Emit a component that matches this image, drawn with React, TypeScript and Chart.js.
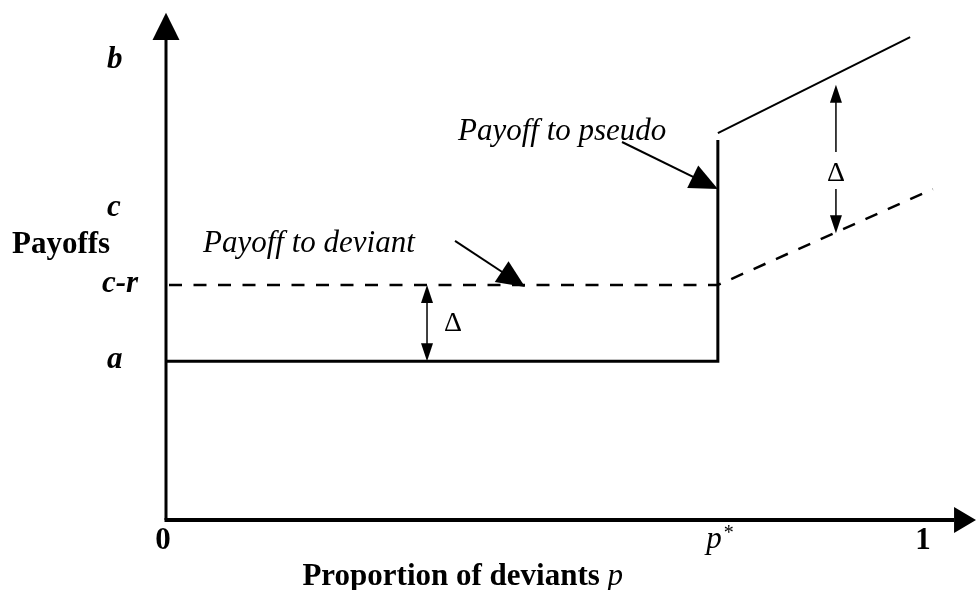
import React, { useEffect, useRef } from 'react';
import { Chart, registerables } from 'chart.js';

Chart.register(...registerables);

// ---- data (in abstract payoff / proportion units) ----
const P_STAR = 0.729;
const LEVEL_A = 0.346;
const LEVEL_CR = 0.512;
const LEVEL_C = 0.678;
const LEVEL_B = 1.0;

const pseudoLowX = [0, P_STAR, P_STAR];
const pseudoLowY = [LEVEL_A, LEVEL_A, 0.828];
const pseudoHighX = [P_STAR, 0.983];
const pseudoHighY = [0.843, 1.052];
const deviantX = [0, P_STAR, 1.013];
const deviantY = [LEVEL_CR, LEVEL_CR, 0.721];

const yTickValues = [LEVEL_B, LEVEL_C, LEVEL_CR, LEVEL_A];
const yTickLabels = ['b', 'c', 'c-r', 'a'];
const xTickValues = [0, P_STAR, 1];
const xTickLabels = ['0', 'p', '1'];

const axisEnds = { x: 1.041, xTip: 1.07, y: 1.046, yTip: 1.105 };

// annotation arrows: [fromX, fromY, toX, toY]
const pseudoArrow = [0.6024, 0.8235, P_STAR, 0.721];
const deviantArrow = [0.3818, 0.608, 0.4743, 0.5076];
// delta arrows
const deltaLeft = { x: 0.3448, top: LEVEL_CR, bottom: LEVEL_A };
const deltaRight = { x: 0.885, topTip: 0.948, topEnd: 0.802, botEnd: 0.721, botTip: 0.625 };

const annotationTexts = [
  { text: 'Payoff to pseudo', x: 0.3857, y: 0.828, align: 'left', font: 'italic 31px "Liberation Serif"' },
  { text: 'Payoff to deviant', x: 0.0489, y: 0.584, align: 'left', font: 'italic 31px "Liberation Serif"' },
  { text: '\u0394', x: 0.379, y: 0.412, align: 'center', font: '28px "Liberation Serif"' },
  { text: '\u0394', x: 0.885, y: 0.7386, align: 'center', font: '28px "Liberation Serif"' },
];

const SERIF = '"Liberation Serif", "Times New Roman", serif';

function drawHead(ctx: CanvasRenderingContext2D, x1: number, y1: number, x2: number, y2: number, len: number, half: number) {
  const dx = x2 - x1;
  const dy = y2 - y1;
  const d = Math.hypot(dx, dy) || 1;
  const ux = dx / d;
  const uy = dy / d;
  const bx = x2 - ux * len;
  const by = y2 - uy * len;
  ctx.beginPath();
  ctx.moveTo(x2, y2);
  ctx.lineTo(bx - uy * half, by + ux * half);
  ctx.lineTo(bx + uy * half, by - ux * half);
  ctx.closePath();
  ctx.fill();
}

function drawArrow(ctx: CanvasRenderingContext2D, x1: number, y1: number, x2: number, y2: number, width: number, len: number, half: number) {
  const dx = x2 - x1;
  const dy = y2 - y1;
  const d = Math.hypot(dx, dy) || 1;
  const ex = x2 - (dx / d) * len * 0.7;
  const ey = y2 - (dy / d) * len * 0.7;
  ctx.lineWidth = width;
  ctx.beginPath();
  ctx.moveTo(x1, y1);
  ctx.lineTo(ex, ey);
  ctx.stroke();
  drawHead(ctx, x1, y1, x2, y2, len, half);
}

const decorPlugin = {
  id: 'decor',
  afterDatasetsDraw(chart: any) {
    const ctx: CanvasRenderingContext2D = chart.ctx;
    const xs = chart.scales.x;
    const ys = chart.scales.y;
    const px = (v: number) => xs.getPixelForValue(v);
    const py = (v: number) => ys.getPixelForValue(v);
    const x0 = px(0);
    const y0 = py(0);
    ctx.save();
    ctx.strokeStyle = '#000';
    ctx.fillStyle = '#000';
    ctx.lineCap = 'butt';

    // y axis
    ctx.lineWidth = 3;
    ctx.beginPath();
    ctx.moveTo(x0, y0);
    ctx.lineTo(x0, py(axisEnds.y));
    ctx.stroke();
    ctx.beginPath();
    ctx.moveTo(x0 - 13.5, py(axisEnds.y));
    ctx.lineTo(x0 + 13.5, py(axisEnds.y));
    ctx.lineTo(x0, py(axisEnds.yTip));
    ctx.closePath();
    ctx.fill();

    // x axis
    ctx.lineWidth = 4;
    ctx.beginPath();
    ctx.moveTo(x0 - 1.5, y0);
    ctx.lineTo(px(axisEnds.x), y0);
    ctx.stroke();
    ctx.beginPath();
    ctx.moveTo(px(axisEnds.x), y0 - 13);
    ctx.lineTo(px(axisEnds.x), y0 + 13);
    ctx.lineTo(px(axisEnds.xTip), y0);
    ctx.closePath();
    ctx.fill();

    // y tick labels
    ctx.font = `bold italic 31px ${SERIF}`;
    ctx.textAlign = 'left';
    ctx.textBaseline = 'alphabetic';
    yTickValues.forEach((v, i) => {
      const lbl = yTickLabels[i];
      ctx.fillText(lbl, lbl === 'c-r' ? 102 : 107, py(v) + 7);
    });

    // y title
    ctx.font = `bold 31px ${SERIF}`;
    ctx.fillText('Payoffs', 12, py(0.5817));

    // x tick labels
    xTickValues.forEach((v, i) => {
      const lbl = xTickLabels[i];
      if (lbl === 'p') {
        ctx.font = `italic 31px ${SERIF}`;
        ctx.textAlign = 'right';
        ctx.fillText('p', px(v) + 4, y0 + 28);
        ctx.font = `20px ${SERIF}`;
        ctx.textAlign = 'left';
        ctx.fillText('*', px(v) + 6, y0 + 19);
      } else {
        ctx.font = `bold 31px ${SERIF}`;
        ctx.textAlign = 'center';
        ctx.fillText(lbl, px(v) - (v === 0 ? 3 : 0), y0 + 29);
      }
    });

    // x title
    const t1 = 'Proportion of deviants ';
    ctx.font = `bold 31px ${SERIF}`;
    const w1 = ctx.measureText(t1).width;
    ctx.font = `italic 31px ${SERIF}`;
    const w2 = ctx.measureText('p').width;
    const startX = px(0.392) - (w1 + w2) / 2;
    ctx.textAlign = 'left';
    ctx.font = `bold 31px ${SERIF}`;
    ctx.fillText(t1, startX, y0 + 65);
    ctx.font = `italic 31px ${SERIF}`;
    ctx.fillText('p', startX + w1, y0 + 65);

    // annotation texts
    annotationTexts.forEach((t) => {
      ctx.font = t.font;
      ctx.textAlign = t.align as CanvasTextAlign;
      ctx.fillText(t.text, px(t.x), py(t.y));
    });

    // annotation arrows
    drawArrow(ctx, px(pseudoArrow[0]), py(pseudoArrow[1]), px(pseudoArrow[2]), py(pseudoArrow[3]), 2, 28, 12.5);
    drawArrow(ctx, px(deviantArrow[0]), py(deviantArrow[1]), px(deviantArrow[2]), py(deviantArrow[3]), 2, 28, 12.5);

    // delta arrows
    const lx = px(deltaLeft.x);
    const lt = py(deltaLeft.top);
    const lb = py(deltaLeft.bottom);
    ctx.lineWidth = 1.5;
    ctx.beginPath();
    ctx.moveTo(lx, lt + 10);
    ctx.lineTo(lx, lb - 10);
    ctx.stroke();
    drawHead(ctx, lx, lb, lx, lt, 18, 6);
    drawHead(ctx, lx, lt, lx, lb, 18, 6);

    const rx = px(deltaRight.x);
    drawArrow(ctx, rx, py(deltaRight.topEnd), rx, py(deltaRight.topTip), 1.5, 18, 6);
    drawArrow(ctx, rx, py(deltaRight.botEnd), rx, py(deltaRight.botTip), 1.5, 18, 6);

    ctx.restore();
  },
};

const toPoints = (xs: number[], ys: number[]) => xs.map((x, i) => ({ x, y: ys[i] }));

export default function App() {
  const ref = useRef<HTMLCanvasElement | null>(null);
  useEffect(() => {
    if (!ref.current) return;
    const chart = new Chart(ref.current, {
      type: 'scatter',
      data: {
        datasets: [
          {
            label: 'Payoff to pseudo (low)',
            data: toPoints(pseudoLowX, pseudoLowY),
            showLine: true,
            borderColor: '#000',
            borderWidth: 3,
            pointRadius: 0,
            borderJoinStyle: 'miter',
            clip: false,
          } as any,
          {
            label: 'Payoff to pseudo (high)',
            data: toPoints(pseudoHighX, pseudoHighY),
            showLine: true,
            borderColor: '#000',
            borderWidth: 2,
            pointRadius: 0,
            clip: false,
          } as any,
          {
            label: 'Payoff to deviant',
            data: toPoints(deviantX, deviantY),
            showLine: true,
            borderColor: '#000',
            borderWidth: 2.5,
            borderDash: [13, 11.5],
            borderDashOffset: -3,
            pointRadius: 0,
            clip: false,
          } as any,
        ],
      },
      options: {
        animation: false,
        responsive: false,
        maintainAspectRatio: false,
        devicePixelRatio: 1,
        layout: { padding: { left: 166, right: 53, top: 61, bottom: 70 } },
        plugins: { legend: { display: false }, tooltip: { enabled: false } },
        events: [],
        scales: {
          x: { type: 'linear', min: 0, max: 1, display: false },
          y: { type: 'linear', min: 0, max: 1, display: false },
        },
      },
      plugins: [decorPlugin],
    });
    return () => chart.destroy();
  }, []);
  return (
    <div style={{ position: 'absolute', left: 0, top: 0, width: 976, height: 590, background: '#fff' }}>
      <canvas ref={ref} width={976} height={590} />
    </div>
  );
}
